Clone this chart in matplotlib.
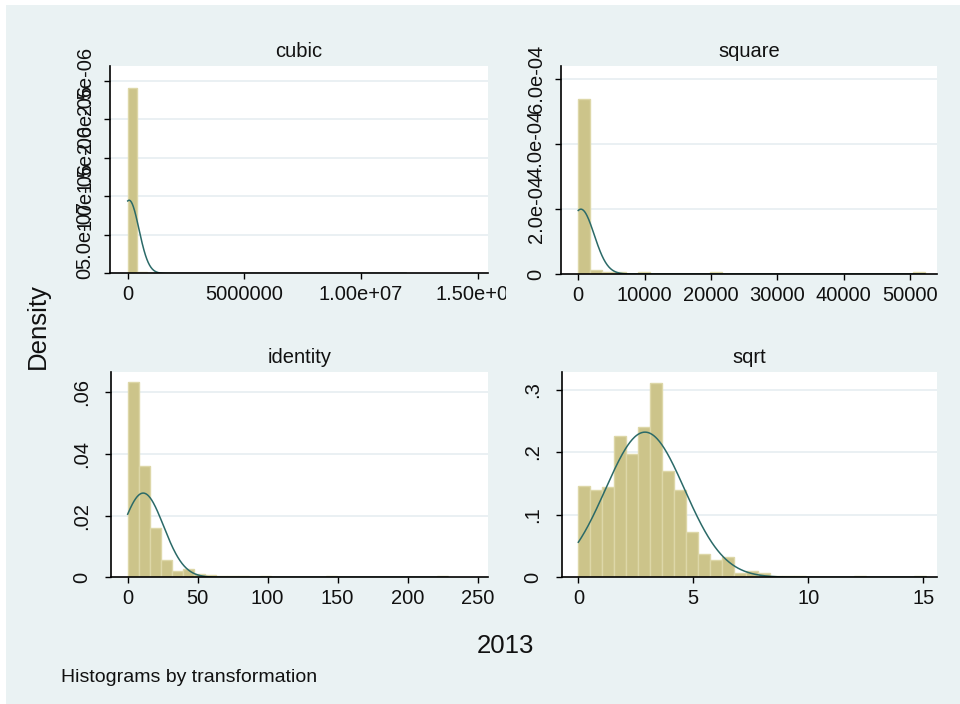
import numpy as np
import matplotlib
matplotlib.use('Agg')
import matplotlib.pyplot as plt
from matplotlib.patches import Rectangle
from matplotlib.transforms import Bbox, TransformedBbox

plt.rcParams['font.family'] = ['Liberation Sans', 'DejaVu Sans']

# histogram densities (29 bins from 0 to max)
cubic_max = 1.193e7
cubic_dens = [2.40e-6, 2.0e-8, 1.2e-8, 0, 0, 0, 0, 1.2e-8, 0, 0,
              0, 0, 0, 0, 0, 0, 0, 0, 0, 0,
              0, 0, 0, 0, 0, 0, 0, 0, 1.2e-8]
cubic_mu, cubic_sd = 6.0e4, 4.2e5

square_max = 52210
square_dens = [5.37e-4, 1.1e-5, 6e-6, 6e-6, 0, 6e-6, 0, 0, 0, 0,
               0, 6e-6, 0, 0, 0, 0, 0, 0, 0, 0,
               0, 0, 0, 0, 0, 0, 0, 0, 6e-6]
square_mu, square_sd = 400, 2000

identity_max = 228.5
identity_dens = [0.0632, 0.0362, 0.0159, 0.0057, 0.0021, 0.0027, 0.0011, 0.0009, 0.0004, 0.0004,
                 0.0004, 0, 0.0004, 0, 0, 0, 0, 0, 0.0004, 0,
                 0, 0, 0, 0, 0, 0, 0, 0, 0.0004]
identity_mu, identity_sd = 11.1, 14.6

sqrt_max = 15.12
sqrt_dens = [0.1454, 0.1396, 0.1449, 0.2259, 0.1976, 0.2407, 0.311, 0.170, 0.140, 0.0725,
             0.0374, 0.0278, 0.032, 0.007, 0.0096, 0.007, 0.002, 0.002, 0.002, 0,
             0, 0, 0, 0.002, 0, 0, 0, 0, 0.002]
sqrt_mu, sqrt_sd = 2.9, 1.72

# ticks and labels
cubic_xticks = [0, 5e6, 1e7, 1.5e7]
cubic_xlabels = ['0', '5000000', '1.00e+07', '1.50e+07']
cubic_yticks = [0, 5e-7, 1e-6, 1.5e-6, 2e-6, 2.5e-6]
cubic_ylabels = ['0', '5.0e-07', '1.0e-06', '1.5e-06', '2.0e-06', '2.5e-06']

square_xticks = [0, 10000, 20000, 30000, 40000, 50000]
square_xlabels = ['0', '10000', '20000', '30000', '40000', '50000']
square_yticks = [0, 2e-4, 4e-4, 6e-4]
square_ylabels = ['0', '2.0e-04', '4.0e-04', '6.0e-04']

identity_xticks = [0, 50, 100, 150, 200, 250]
identity_xlabels = ['0', '50', '100', '150', '200', '250']
identity_yticks = [0, 0.02, 0.04, 0.06]
identity_ylabels = ['0', '.02', '.04', '.06']

sqrt_xticks = [0, 5, 10, 15]
sqrt_xlabels = ['0', '5', '10', '15']
sqrt_yticks = [0, 0.1, 0.2, 0.3]
sqrt_ylabels = ['0', '.1', '.2', '.3']

BG = '#EAF2F3'
BAR = '#CCC48A'
BAR_EDGE = '#DDD7A8'
CURVE = '#2B6A68'
TXT = '#111111'

fig = plt.figure(figsize=(9.6, 7.04), dpi=100, facecolor='white')
fig.add_artist(Rectangle((6 / 960, 0), 1, 1 - 5 / 704, transform=fig.transFigure,
                         facecolor=BG, edgecolor='none', zorder=-10))


def px(l, t, r, b):
    return [l / 960, 1 - b / 704, (r - l) / 960, (b - t) / 704]


panels = [
    ('cubic', px(110, 66, 488, 273.5), cubic_max, cubic_dens, cubic_mu, cubic_sd,
     cubic_xticks, cubic_xlabels, cubic_yticks, cubic_ylabels, (-7.6e5, 1.544e7), 2.69e-6, 6.5),
    ('square', px(561, 66, 937, 274), square_max, square_dens, square_mu, square_sd,
     square_xticks, square_xlabels, square_yticks, square_ylabels, (-2600, 54070), 6.4e-4, 6.5),
    ('identity', px(111, 372, 488, 577.3), identity_max, identity_dens, identity_mu, identity_sd,
     identity_xticks, identity_xlabels, identity_yticks, identity_ylabels, (-11.9, 257.4), 0.0666, 10),
    ('sqrt', px(562, 372, 937, 577.3), sqrt_max, sqrt_dens, sqrt_mu, sqrt_sd,
     sqrt_xticks, sqrt_xlabels, sqrt_yticks, sqrt_ylabels, (-0.71, 15.6), 0.328, 10),
]

for (name, rect, xmax, dens, mu, sd, xt, xl, yt, yl, xlim, ytop, ypad) in panels:
    ax = fig.add_axes(rect)
    ax.set_facecolor('white')
    edges = np.linspace(0, xmax, len(dens) + 1)
    w = edges[1] - edges[0]
    ax.bar(edges[:-1], dens, width=w, align='edge', color=BAR,
           edgecolor=BAR_EDGE, linewidth=1.0, zorder=2)
    # normal density overlay
    xs = np.linspace(0, xmax, 600)
    ys = np.exp(-(xs - mu) ** 2 / (2 * sd ** 2)) / (sd * np.sqrt(2 * np.pi))
    ax.plot(xs, ys, color=CURVE, linewidth=1.1, zorder=3)

    for v in yt[1:]:
        ax.axhline(v, color='#E6EEF1', linewidth=1.2, zorder=1)

    ax.set_xlim(*xlim)
    ax.set_ylim(0, ytop)
    ax.set_xticks(xt)
    ax.set_xticklabels(xl, fontsize=14.5)
    ax.set_yticks(yt)
    ax.set_yticklabels(yl, fontsize=14.5, rotation=90, va='center')
    ax.tick_params(direction='out', length=4.5, width=1.0, color='black', labelcolor=TXT)
    ax.tick_params(axis='x', pad=4)
    ax.tick_params(axis='y', pad=ypad)
    for s in ['top', 'right']:
        ax.spines[s].set_visible(False)
    for s in ['left', 'bottom']:
        ax.spines[s].set_linewidth(1.2)
        ax.spines[s].set_zorder(4)
    ax.set_title(name, fontsize=14.5, pad=6.5, color=TXT)

    if name == 'cubic':
        clip = TransformedBbox(Bbox([[0, 0], [506 / 960, 1]]), fig.transFigure)
        for tick in ax.xaxis.get_major_ticks():
            tick.label1.set_clip_box(clip)
            tick.label1.set_clip_on(True)

fig.text(38 / 960, 1 - 326 / 704, 'Density', rotation=90, fontsize=18.5,
         ha='center', va='center', color=TXT)
fig.text(505 / 960, 1 - 646 / 704, '2013', fontsize=18.5,
         ha='center', va='center', color=TXT)
fig.text(61 / 960, 1 - 677 / 704, 'Histograms by transformation', fontsize=14,
         ha='left', va='center', color=TXT)

fig.savefig('out.png', dpi=100, facecolor=fig.get_facecolor())
